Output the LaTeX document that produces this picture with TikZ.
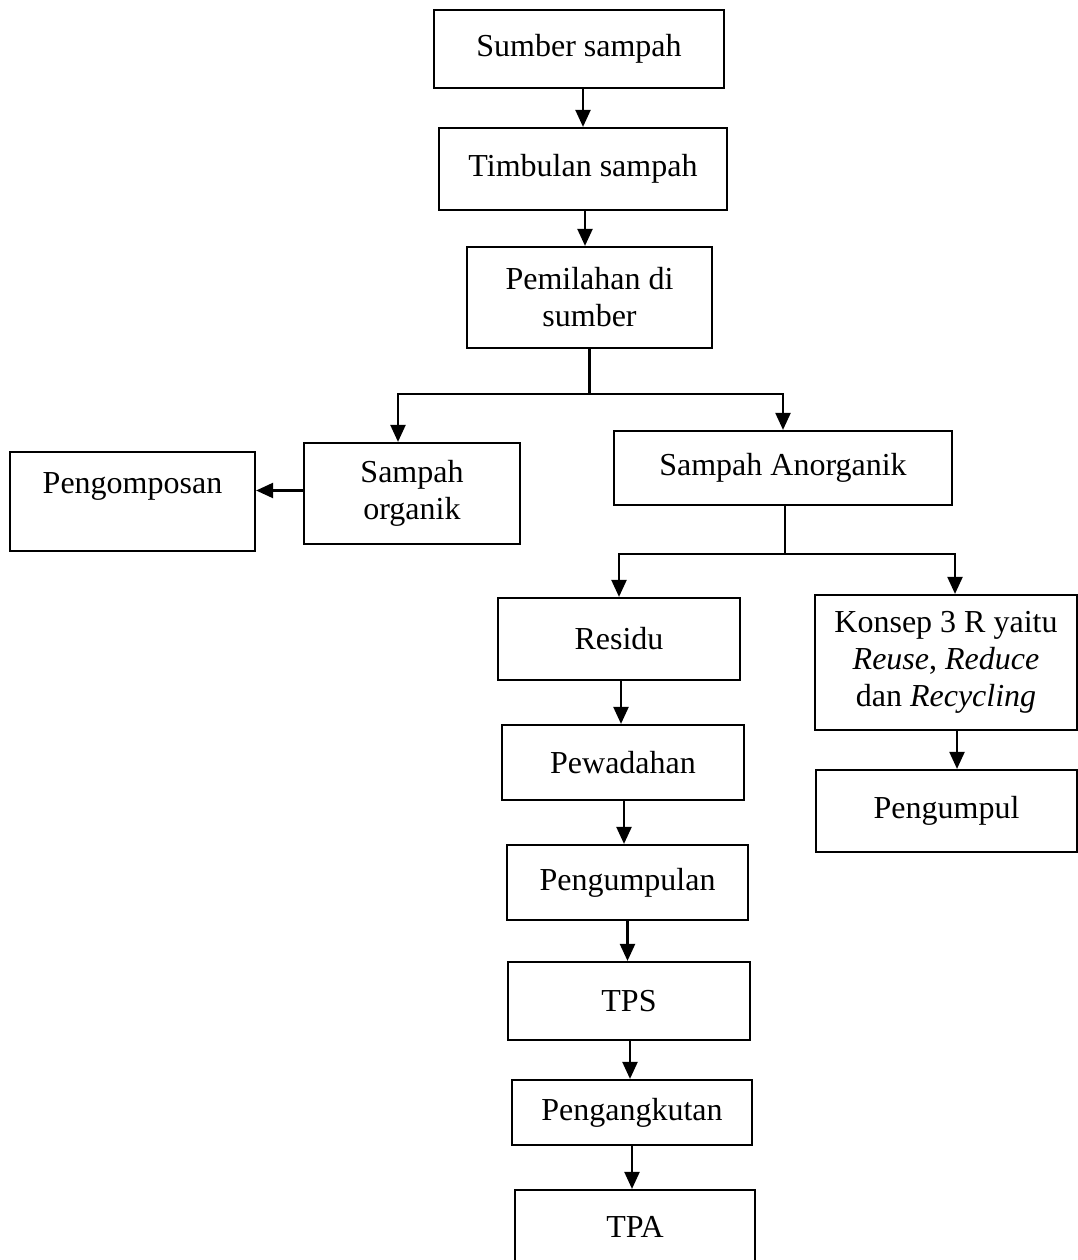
\documentclass[tikz,border=0pt]{standalone}
\usepackage{fontspec}
\setmainfont{Liberation Serif}
\usetikzlibrary{arrows.meta,calc}
\begin{document}
\begin{tikzpicture}[x=1pt,y=-1pt,
  box/.style={draw, line width=2.2pt, inner sep=0pt, align=center, font=\fontsize{32}{37}\selectfont},
  arr/.style={line width=2.2pt, -{Triangle[length=17pt,width=15pt]}},
  ln/.style={line width=2.2pt}]
\useasboundingbox (0,0) rectangle (1077,1260);
\node[box, minimum width=290pt, minimum height=78pt] (sumber) at (579,49) {Sumber sampah};
\node[box, minimum width=288pt, minimum height=82pt] (timbulan) at (583,169) {Timbulan sampah};
\node[box, minimum width=245pt, minimum height=101pt] (pemilahan) at (589.5,297.5) {Pemilahan di\\sumber};
\node[box, minimum width=216pt, minimum height=101pt] (organik) at (412,493.5) {Sampah\\organik};
\node[box, minimum width=245pt, minimum height=99pt] (pengomposan) at (132.5,501.5) {Pengomposan\\\mbox{}};
\node[box, minimum width=338pt, minimum height=74pt] (anorganik) at (783,468) {Sampah Anorganik};
\node[box, minimum width=242pt, minimum height=82pt] (residu) at (619,639) {Residu};
\node[box, minimum width=262pt, minimum height=135pt] (konsep) at (946,662.5) {Konsep 3 R yaitu\\\textit{Reuse}, \textit{Reduce}\\dan \textit{Recycling}};
\node[box, minimum width=242pt, minimum height=75pt] (pewadahan) at (623,762.5) {Pewadahan};
\node[box, minimum width=261pt, minimum height=82pt] (pengumpul) at (946.5,811) {Pengumpul};
\node[box, minimum width=241pt, minimum height=75pt] (pengumpulan) at (627.5,882.5) {Pengumpulan};
\node[box, minimum width=242pt, minimum height=78pt] (tps) at (629,1001) {TPS};
\node[box, minimum width=240pt, minimum height=65pt] (pengangkutan) at (632,1112.5) {Pengangkutan};
\node[box, minimum width=240pt, minimum height=74pt] (tpa) at (635,1227) {TPA};

\draw[arr] ([xshift=4pt]sumber.south) -- ([xshift=4pt]sumber.south |- timbulan.north);
\draw[arr] ([xshift=2pt]timbulan.south) -- ([xshift=2pt]timbulan.south |- pemilahan.north);
\draw[ln] (pemilahan.south) -- ++(0,45) coordinate (b1);
\draw[arr] (b1) -| ([xshift=-14pt]organik.north);
\draw[arr] (b1) -| (anorganik.north);
\draw[arr] ([yshift=3pt]organik.west) -- ([yshift=3pt]organik.west -| pengomposan.east);
\draw[ln] ([xshift=2pt]anorganik.south) -- ++(0,48) coordinate (b2);
\draw[arr] (b2) -| (residu.north);
\draw[arr] (b2) -| ([xshift=9pt]konsep.north);
\draw[arr] ([xshift=2pt]residu.south) -- ([xshift=2pt]residu.south |- pewadahan.north);
\draw[arr] ([xshift=1pt]pewadahan.south) -- ([xshift=1pt]pewadahan.south |- pengumpulan.north);
\draw[arr] (pengumpulan.south) -- (pengumpulan.south |- tps.north);
\draw[arr] ([xshift=1pt]tps.south) -- ([xshift=1pt]tps.south |- pengangkutan.north);
\draw[arr] (pengangkutan.south) -- (pengangkutan.south |- tpa.north);
\draw[arr] ([xshift=11pt]konsep.south) -- ([xshift=11pt]konsep.south |- pengumpul.north);
\end{tikzpicture}
\end{document}
